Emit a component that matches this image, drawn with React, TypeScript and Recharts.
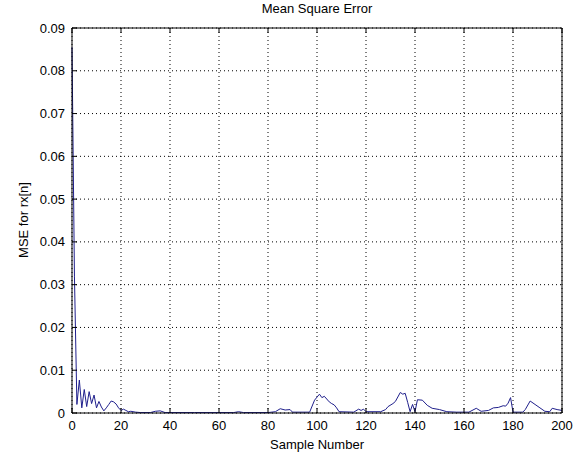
import React from "react";
import {
  LineChart,
  Line,
  XAxis,
  YAxis,
  CartesianGrid,
} from "recharts";

// sample numbers (x) and MSE values
const sampleN = [
  0, 1, 2, 3, 4, 5, 6, 7, 8, 9, 10, 11, 12, 13, 14, 15, 16, 17, 18, 19, 20,
  21, 22, 23, 24, 26, 28, 32, 34, 36, 38, 50, 66, 68, 70, 80, 83, 85, 87, 89,
  90, 97, 99, 101, 102, 103, 105, 106, 107, 108, 109, 115, 117, 118, 119, 120,
  126, 128, 129, 131, 132, 134, 135, 136, 137, 138, 139, 140, 141, 143, 145,
  147, 150, 153, 157, 160, 162, 165, 167, 170, 172, 174, 176, 177, 178, 179,
  180, 184, 185, 187, 189, 191, 193, 195, 196, 198, 200,
];
const mseValues = [
  0.0855, 0.032, 0.002, 0.0077, 0.0012, 0.0055, 0.0015, 0.005, 0.0022, 0.0042,
  0.0012, 0.0027, 0.0014, 0.0005, 0.0012, 0.002, 0.0028, 0.0026, 0.0021,
  0.0012, 0.0006, 0.0009, 0.0006, 0.0003, 0.0004, 0.0002, 0.0001, 0.0001,
  0.0004, 0.0005, 0.0001, 0.0001, 0.0001, 0.0003, 0.0001, 0.0001, 0.0003,
  0.001, 0.0007, 0.0008, 0.0002, 0.0002, 0.003, 0.0044, 0.0036, 0.0039,
  0.0026, 0.0022, 0.0019, 0.0012, 0.0003, 0.0002, 0.0009, 0.0006, 0.0009,
  0.0003, 0.0003, 0.0008, 0.0015, 0.0022, 0.0027, 0.0048, 0.0044, 0.0046,
  0.0025, 0.0003, 0.002, 0.0003, 0.0031, 0.003, 0.0018, 0.0011, 0.0008,
  0.0003, 0.0002, 0.0002, 0.0002, 0.0011, 0.0004, 0.0006, 0.0012, 0.0013,
  0.0017, 0.0016, 0.0023, 0.0036, 0.0002, 0.0002, 0.0008, 0.0028, 0.002,
  0.0012, 0.0004, 0.0003, 0.0011, 0.0008, 0.0006,
];

const xTicks = [0, 20, 40, 60, 80, 100, 120, 140, 160, 180, 200];
const yTicks = [0, 0.01, 0.02, 0.03, 0.04, 0.05, 0.06, 0.07, 0.08, 0.09];
const yTickLabels = ["0", "0.01", "0.02", "0.03", "0.04", "0.05", "0.06", "0.07", "0.08", "0.09"];

const data = sampleN.map((n, i) => ({ n, mse: mseValues[i] }));

const FONT = "'Liberation Sans', Arial, sans-serif";

const bottomTick = ({ x, y, payload }: any) => (
  <g>
    <line x1={x} x2={x} y1={y} y2={y - 5} stroke="#000" />
    <text x={x} y={y + 17} textAnchor="middle" fontSize={13} fontFamily={FONT} fill="#000">
      {payload.value}
    </text>
  </g>
);

const topTick = ({ x, y }: any) => (
  <line x1={x} x2={x} y1={y} y2={y + 5} stroke="#000" />
);

const leftTick = ({ x, y, payload, index }: any) => (
  <g>
    <line x1={x} x2={x + 5} y1={y} y2={y} stroke="#000" />
    <text x={x - 7} y={y} dy="0.35em" textAnchor="end" fontSize={13} fontFamily={FONT} fill="#000">
      {yTickLabels[index] ?? String(payload.value)}
    </text>
  </g>
);

const rightTick = ({ x, y }: any) => (
  <line x1={x} x2={x - 5} y1={y} y2={y} stroke="#000" />
);

const App = () => {
  return (
    <div style={{ position: "absolute", left: 0, top: 0, width: 584, height: 456, background: "#fff" }}>
      <div
        style={{
          position: "absolute",
          left: 72,
          width: 490,
          top: 1,
          textAlign: "center",
          fontFamily: FONT,
          fontSize: 13,
        }}
      >
        Mean Square Error
      </div>
      <div
        style={{
          position: "absolute",
          left: 72,
          width: 490,
          top: 437,
          textAlign: "center",
          fontFamily: FONT,
          fontSize: 13,
        }}
      >
        Sample Number
      </div>
      <div
        style={{
          position: "absolute",
          left: 23,
          top: 220,
          transform: "translate(-50%, -50%) rotate(-90deg)",
          whiteSpace: "nowrap",
          fontFamily: FONT,
          fontSize: 13,
        }}
      >
        MSE for rx[n]
      </div>
      <LineChart
        width={584}
        height={456}
        data={data}
        margin={{ top: 0, right: 0, bottom: 0, left: 0 }}
      >
        <CartesianGrid stroke="#000" strokeDasharray="1 3" />
        <XAxis
          dataKey="n"
          type="number"
          domain={[0, 200]}
          ticks={xTicks}
          height={43}
          tickSize={0}
          tickMargin={0}
          tick={bottomTick}
          axisLine
          stroke="#000"
        />
        <XAxis
          xAxisId="top"
          orientation="top"
          dataKey="n"
          type="number"
          domain={[0, 200]}
          ticks={xTicks}
          height={28}
          tickSize={0}
          tickMargin={0}
          tick={topTick}
          axisLine
          stroke="#000"
        />
        <YAxis
          type="number"
          domain={[0, 0.09]}
          ticks={yTicks}
          width={72}
          tickSize={0}
          tickMargin={0}
          tick={leftTick}
          axisLine
          stroke="#000"
        />
        <YAxis
          yAxisId="right"
          orientation="right"
          type="number"
          domain={[0, 0.09]}
          ticks={yTicks}
          width={22}
          tickSize={0}
          tickMargin={0}
          tick={rightTick}
          axisLine
          stroke="#000"
        />
        <Line
          type="linear"
          dataKey="mse"
          stroke="#1f1f8c"
          strokeWidth={1}
          dot={false}
          isAnimationActive={false}
        />
      </LineChart>
    </div>
  );
};

export default App;
